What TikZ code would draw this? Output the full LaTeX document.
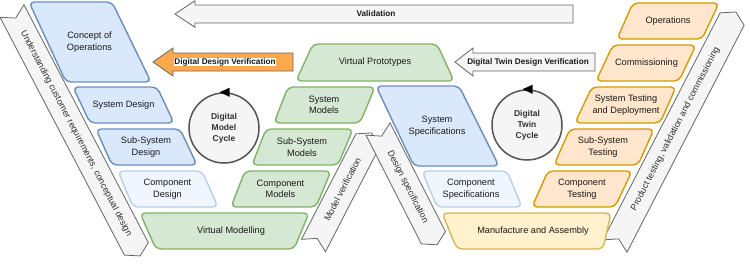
\documentclass[tikz,border=0pt]{standalone}
\usepackage{fontspec}
\setmainfont{Liberation Sans}
\usetikzlibrary{calc}
\definecolor{bluef}{HTML}{DAE8FC}\definecolor{blued}{HTML}{6C8EBF}
\definecolor{greenf}{HTML}{D5E8D4}\definecolor{greend}{HTML}{82B366}
\definecolor{orangef}{HTML}{FFE6CC}\definecolor{oranged}{HTML}{D79B00}
\definecolor{yellowf}{HTML}{FFF2CC}\definecolor{yellowd}{HTML}{D6B656}
\definecolor{lbluef}{HTML}{F0F6FE}\definecolor{lblued}{HTML}{B9CEEC}
\definecolor{greyf}{HTML}{F5F5F5}\definecolor{greyd}{HTML}{666666}
\definecolor{ddvf}{HTML}{FFA94F}
\definecolor{txt}{HTML}{1A1A1A}
\definecolor{cycd}{HTML}{555555}
\tikzset{
  box/.style={line width=1.4pt, rounded corners=5pt, line join=round},
  bluebox/.style={box, fill=bluef, draw=blued},
  lbluebox/.style={box, fill=lbluef, draw=lblued},
  greenbox/.style={box, fill=greenf, draw=greend},
  orangebox/.style={box, fill=orangef, draw=oranged},
  yellowbox/.style={box, fill=yellowf, draw=yellowd},
  lbl/.style={font=\fontsize{9.2}{11.5}\selectfont, align=center, text=txt, inner sep=0pt},
  blbl/.style={font=\bfseries\fontsize{8.2}{10}\selectfont, text=txt, inner sep=0.6pt},
  steparrow/.style={fill=greyf, draw=greyd, line width=0.8pt, line join=miter},
  arrowtext/.style={font=\fontsize{9}{10}\selectfont, text=txt!90, inner sep=0pt},
  cyc/.style={circle, fill=greyf, draw=cycd, line width=1.5pt, minimum size=70pt,
    inner sep=0pt, align=center, font=\bfseries\fontsize{8.5}{11}\selectfont, text=txt!90},
}
% #1 name, #2 tail centre, #3 angle, #4 length, #5 text
\newcommand\stepArrow[5]{%
  \begin{scope}[shift={#2}, rotate=#3]
    \draw[steparrow] (0,-13.5) -- ({#4-8},-13.5) -- (#4,0) -- ({#4-8},13.5) -- (0,13.5) -- (8,0) -- cycle;
    \node[arrowtext, rotate=#3] (#1) at ({#4/2},0) {#5};
  \end{scope}}
\begin{document}
\begin{tikzpicture}[x=1pt,y=-1pt]
\fill[white] (0,0) rectangle (750,263);
\useasboundingbox (0,0) rectangle (750,263);

% slanted step arrows
\stepArrow{aleft}{(12,11)}{-62.4}{276.4}{Understanding customer requirements, conceptual design}
\stepArrow{aright}{(615,246)}{62.7}{263.4}{Product testing, validation and commissioning}
\stepArrow{amodel}{(313.5,245.5)}{62.7}{126.7}{Model verification}
\stepArrow{adesign}{(378,129)}{-63}{130}{Design specification}

% horizontal arrows
\draw[steparrow] (175,14) -- (195,0.7) -- (195,5) -- (573,5) -- (573,23) -- (195,23) -- (195,27.3) -- cycle;
\node[blbl] (val) at (376,14) {Validation};
\draw[steparrow, fill=ddvf] (153,62) -- (173,48) -- (173,53) -- (293,53) -- (293,71) -- (173,71) -- (173,76) -- cycle;
\node[blbl, fill=white] (ddv) at (225,62) {Digital Design Verification};
\draw[steparrow] (455,62) -- (473,48) -- (473,53) -- (595,53) -- (595,71) -- (473,71) -- (473,76) -- cycle;
\node[blbl] (dtdv) at (528,62) {Digital Twin Design Verification};

% left blue column
\draw[bluebox] (29,2) -- (112,2) -- (151,82) -- (66,82) -- cycle;
\node[lbl] (coo) at (89.5,42) {Concept of\\Operations};
\draw[bluebox] (73,87) -- (157,87) -- (174,123) -- (90,123) -- cycle;
\node[lbl] (sd) at (123.5,105) {System Design};
\draw[bluebox] (96,129) -- (180,129) -- (197,165) -- (112,165) -- cycle;
\node[lbl] (ssd) at (146,147) {Sub-System\\Design};
\draw[lbluebox] (118,171) -- (202,171) -- (218,207) -- (133,207) -- cycle;
\node[lbl] (cd) at (167.5,189) {Component\\Design};
\draw[greenbox] (140,213) -- (309,213) -- (294,249) -- (156,249) -- cycle;
\node[lbl] (vm) at (231,231) {Virtual Modelling};

% green column
\draw[greenbox] (313,44) -- (437,44) -- (454,81) -- (296,81) -- cycle;
\node[lbl] (vp) at (375,62.5) {Virtual Prototypes};
\draw[greenbox] (288,87) -- (375,87) -- (360,123) -- (274,123) -- cycle;
\node[lbl] (sm) at (324,105) {System\\Models};
\draw[greenbox] (266,129) -- (353,129) -- (338,165) -- (252,165) -- cycle;
\node[lbl] (ssm) at (302,147) {Sub-System\\Models};
\draw[greenbox] (245,171) -- (331,171) -- (316,207) -- (231,207) -- cycle;
\node[lbl] (cm) at (280.5,189) {Component\\Models};

% centre blue
\draw[bluebox] (376,86) -- (459,86) -- (499,166) -- (414,166) -- cycle;
\node[lbl] (ss) at (437,126) {System\\Specifications};
\draw[lbluebox] (422,171) -- (507,171) -- (522,207) -- (437,207) -- cycle;
\node[lbl] (cs) at (471,189) {Component\\Specifications};

% yellow
\draw[yellowbox] (442,213) -- (611,213) -- (603,249) -- (457,249) -- cycle;
\node[lbl] (ma) at (533,231) {Manufacture and Assembly};

% orange column
\draw[orangebox] (633,3) -- (719,3) -- (702,39) -- (617,39) -- cycle;
\node[lbl] (op) at (668,21) {Operations};
\draw[orangebox] (613,45) -- (696,45) -- (679,81) -- (596,81) -- cycle;
\node[lbl] (com) at (646.5,63) {Commissioning};
\draw[orangebox] (592,87) -- (676,87) -- (660,123) -- (575,123) -- cycle;
\node[lbl] (std) at (626,105) {System Testing\\and Deployment};
\draw[orangebox] (570,129) -- (654,129) -- (638,165) -- (554,165) -- cycle;
\node[lbl] (sst) at (603,147) {Sub-System\\Testing};
\draw[orangebox] (548,171) -- (632,171) -- (615,207) -- (532,207) -- cycle;
\node[lbl] (ct) at (582,189) {Component\\Testing};

% cycles
\node[cyc] (dmc) at (224,128) {Digital\\Model\\Cycle};
\fill[black] ($(dmc.north)+(-4.5,0)$) -- ++(10,-4.5) -- ++(0,9) -- cycle;
\node[cyc] (dtc) at (527,125) {Digital\\Twin\\Cycle};
\fill[black] ($(dtc.north)+(-4.5,0)$) -- ++(10,-4.5) -- ++(0,9) -- cycle;
\end{tikzpicture}
\end{document}
